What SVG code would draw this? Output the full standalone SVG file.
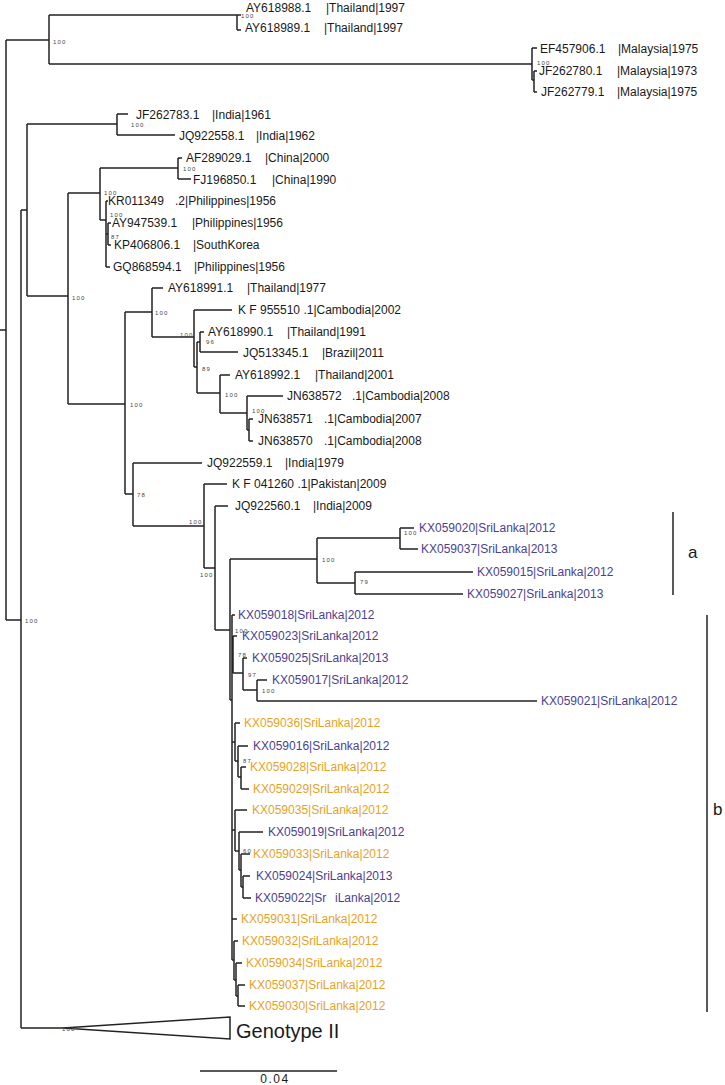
<svg xmlns="http://www.w3.org/2000/svg" width="725" height="1085" viewBox="0 0 725 1085">
<style>
text{font-family:"Liberation Sans",Arial,sans-serif;font-size:12px;fill:#1a1a1a}
.p{fill:#4b4190}
.o{fill:#e6a21f}
.bs{font-size:6px;letter-spacing:1.2px;fill:#444}
.big{font-size:20px}
.lbl{font-size:17px}
.tree{fill:none;stroke:#222;stroke-width:1.5}
</style>
<rect width="725" height="1085" fill="#fff"/>
<g id="connectors" class="tree">
<path d="M0 330H6M6 40V620M6 40H49M49 15V64M49 15H237M237 15V30M237 15H241M237 30H241M49 64H532M532 48V80M532 48H537M532 80H534M534 71V92M534 71H537M534 92H537M6 620H21M21 210V1028M21 210H27M27 124V296M27 124H117M117 114V135M117 114H128M117 135H175M27 296H68M68 193V404M68 193H100M100 168V220M100 168H178M178 158V179M178 158H182M178 179H191M100 220H106M106 201V267M106 201H108M106 234H108M108 223V245M108 223H111M108 245H111M106 267H110M68 404H125M125 312V494M125 312H152M152 288V337M152 288H163M152 337H194M194 310V367M194 310H232M194 367H197M197 342V393M197 342H200M200 332V352M200 332H204M200 352H238M197 393H220M220 375V413M220 375H230M220 413H247M247 396V430M247 396H283M247 430H249M249 419V441M249 419H253M249 441H253M125 494H133M133 463V526M133 463H202M133 526H204M204 484V568M204 484H227M204 568H215M215 506V630M215 506H228M215 630H230M230 559V700M230 559H317M317 538V583M317 538H400M400 528V549M400 528H414M400 549H418M317 583H355M355 572V594M355 572H473M355 594H463M230 700H232M232 615V960M232 615H235M232 655H233M233 636V673M233 636H237M233 673H243M243 658V690M243 658H247M243 690H257M257 680V701M257 680H267M257 701H537M232 742H235M235 723V761M235 723H240M235 761H238M238 746V777M238 746H248M238 777H241M241 767V789M241 767H246M241 789H249M232 830H235M235 810V851M235 810H247M235 851H239M239 832V870M239 832H263M239 870H241M241 854V887M241 854H250M241 887H243M243 876V898M243 876H250M243 898H251M232 919H237M232 960H234M234 941V980M234 941H238M234 980H236M236 963V996M236 963H242M236 996H238M238 985V1006M238 985H245M238 1006H245M21 1028H63"/>
<path d="M63 1028L230 1017V1039Z"/>
<path d="M673 512V595M707 615V1012M200 1071H337"/>
</g>
<g id="bootstrap">
<text class="bs" x="241" y="18">100</text>
<text class="bs" x="53" y="44">100</text>
<text class="bs" x="537" y="65">100</text>
<text class="bs" x="25" y="623">100</text>
<text class="bs" x="131" y="127">100</text>
<text class="bs" x="183" y="171">100</text>
<text class="bs" x="104" y="195">100</text>
<text class="bs" x="110" y="217">100</text>
<text class="bs" x="111" y="239">87</text>
<text class="bs" x="72" y="300">100</text>
<text class="bs" x="155" y="315">100</text>
<text class="bs" x="180" y="337">100</text>
<text class="bs" x="206" y="344">96</text>
<text class="bs" x="202" y="371">89</text>
<text class="bs" x="225" y="397">100</text>
<text class="bs" x="252" y="413">100</text>
<text class="bs" x="130" y="407">100</text>
<text class="bs" x="137" y="497">78</text>
<text class="bs" x="189" y="524">100</text>
<text class="bs" x="200" y="577">100</text>
<text class="bs" x="322" y="562">100</text>
<text class="bs" x="360" y="584">79</text>
<text class="bs" x="404" y="535">100</text>
<text class="bs" x="235" y="633">100</text>
<text class="bs" x="238" y="657">78</text>
<text class="bs" x="248" y="677">97</text>
<text class="bs" x="262" y="693">100</text>
<text class="bs" x="243" y="763">87</text>
<text class="bs" x="243" y="853">60</text>
<text class="bs" x="62" y="1031">100</text>
</g>
<g id="n-AY618988"><text x="246" y="11.5">AY618988.1<tspan x="326">|Thailand|1997</tspan></text></g>
<g id="n-AY618989"><text x="245" y="32">AY618989.1<tspan x="324">|Thailand|1997</tspan></text></g>
<g id="n-EF457906"><text x="540" y="53">EF457906.1<tspan x="618">|Malaysia|1975</tspan></text></g>
<g id="n-JF262780"><text x="539" y="75">JF262780.1<tspan x="617">|Malaysia|1973</tspan></text></g>
<g id="n-JF262779"><text x="541" y="96">JF262779.1<tspan x="617">|Malaysia|1975</tspan></text></g>
<g id="n-JF262783"><text x="136" y="119">JF262783.1<tspan x="212">|India|1961</tspan></text></g>
<g id="n-JQ922558"><text x="179" y="140">JQ922558.1<tspan x="256">|India|1962</tspan></text></g>
<g id="n-AF289029"><text x="186" y="162">AF289029.1<tspan x="265">|China|2000</tspan></text></g>
<g id="n-FJ196850"><text x="193" y="184">FJ196850.1<tspan x="272">|China|1990</tspan></text></g>
<g id="n-KR011349"><text x="108" y="205">KR011349<tspan x="175">.2|Philippines|1956</tspan></text></g>
<g id="n-AY947539"><text x="112" y="227">AY947539.1<tspan x="192">|Philippines|1956</tspan></text></g>
<g id="n-KP406806"><text x="114" y="249">KP406806.1<tspan x="193">|SouthKorea</tspan></text></g>
<g id="n-GQ868594"><text x="113" y="271">GQ868594.1<tspan x="194">|Philippines|1956</tspan></text></g>
<g id="n-AY618991"><text x="168" y="292">AY618991.1<tspan x="247">|Thailand|1977</tspan></text></g>
<g id="n-KF955510"><text x="238" y="314" xml:space="preserve">K F 955510 .1|Cambodia|2002</text></g>
<g id="n-AY618990"><text x="208" y="336">AY618990.1<tspan x="287">|Thailand|1991</tspan></text></g>
<g id="n-JQ513345"><text x="243" y="357">JQ513345.1<tspan x="322">|Brazil|2011</tspan></text></g>
<g id="n-AY618992"><text x="235" y="379">AY618992.1<tspan x="315">|Thailand|2001</tspan></text></g>
<g id="n-JN638572"><text x="287" y="400">JN638572<tspan x="352">.1|Cambodia|2008</tspan></text></g>
<g id="n-JN638571"><text x="258" y="423">JN638571<tspan x="324">.1|Cambodia|2007</tspan></text></g>
<g id="n-JN638570"><text x="258" y="445">JN638570<tspan x="324">.1|Cambodia|2008</tspan></text></g>
<g id="n-JQ922559"><text x="207" y="467">JQ922559.1<tspan x="285">|India|1979</tspan></text></g>
<g id="n-KF041260"><text x="232" y="488" xml:space="preserve">K F 041260 .1|Pakistan|2009</text></g>
<g id="n-JQ922560"><text x="235" y="510">JQ922560.1<tspan x="313">|India|2009</tspan></text></g>
<g id="n-KX059020"><text class="p" x="419" y="532">KX059020|SriLanka|2012</text></g>
<g id="n-KX059037a"><text class="p" x="421" y="553">KX059037|SriLanka|2013</text></g>
<g id="n-KX059015"><text class="p" x="477" y="576">KX059015|SriLanka|2012</text></g>
<g id="n-KX059027"><text class="p" x="467" y="598">KX059027|SriLanka|2013</text></g>
<g id="n-KX059018"><text class="p" x="238" y="619">KX059018|SriLanka|2012</text></g>
<g id="n-KX059023"><text class="p" x="242" y="640">KX059023|SriLanka|2012</text></g>
<g id="n-KX059025"><text class="p" x="252" y="662">KX059025|SriLanka|2013</text></g>
<g id="n-KX059017"><text class="p" x="272" y="684">KX059017|SriLanka|2012</text></g>
<g id="n-KX059021"><text class="p" x="541" y="705">KX059021|SriLanka|2012</text></g>
<g id="n-KX059036"><text class="o" x="244" y="727">KX059036|SriLanka|2012</text></g>
<g id="n-KX059016"><text class="p" x="253" y="750">KX059016|SriLanka|2012</text></g>
<g id="n-KX059028"><text class="o" x="250" y="771">KX059028|SriLanka|2012</text></g>
<g id="n-KX059029"><text class="o" x="253" y="793">KX059029|SriLanka|2012</text></g>
<g id="n-KX059035"><text class="o" x="252" y="814">KX059035|SriLanka|2012</text></g>
<g id="n-KX059019"><text class="p" x="268" y="836">KX059019|SriLanka|2012</text></g>
<g id="n-KX059033"><text class="o" x="253" y="858">KX059033|SriLanka|2012</text></g>
<g id="n-KX059024"><text class="p" x="256" y="880">KX059024|SriLanka|2013</text></g>
<g id="n-KX059022"><text class="p" x="255" y="902">KX059022|Sr<tspan x="335">iLanka|2012</tspan></text></g>
<g id="n-KX059031"><text class="o" x="241" y="923">KX059031|SriLanka|2012</text></g>
<g id="n-KX059032"><text class="o" x="242" y="945">KX059032|SriLanka|2012</text></g>
<g id="n-KX059034"><text class="o" x="246" y="967">KX059034|SriLanka|2012</text></g>
<g id="n-KX059037b"><text class="o" x="249" y="989">KX059037|SriLanka|2012</text></g>
<g id="n-KX059030"><text class="o" x="249" y="1010">KX059030|SriLanka|2012</text></g>
<g id="n-genotype2"><text class="big" x="236" y="1038">Genotype II</text></g>
<g id="clade-a"><text class="lbl" x="688" y="558">a</text></g>
<g id="clade-b"><text class="lbl" x="713" y="815">b</text></g>
<g id="scale"><text x="275" y="1083" text-anchor="middle" letter-spacing="1.5">0.04</text></g>
</svg>
